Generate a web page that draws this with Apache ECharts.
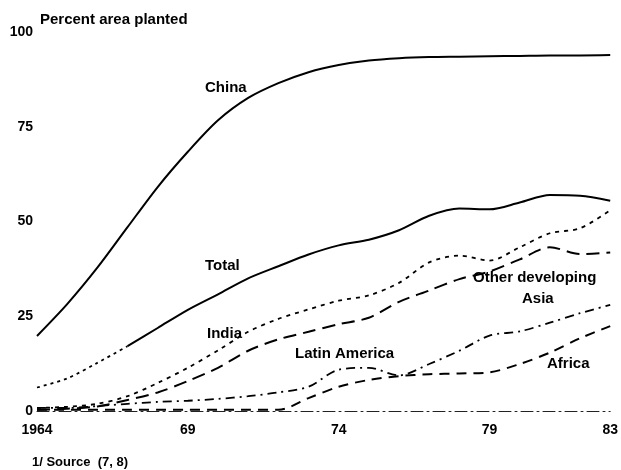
<!DOCTYPE html>
<html>
<head>
<meta charset="utf-8">
<script src="https://cdn.jsdelivr.net/npm/echarts@6/dist/echarts.min.js"></script>
<style>html,body{margin:0;padding:0;background:#fff}#c{width:621px;height:470px}</style>
</head>
<body>
<div id="c"></div>
<script>
var years = ["1964","1965","1966","1967","1968","1969","1970","1971","1972","1973","1974","1975","1976","1977","1978","1979","1980","1981","1982","1983"];
var tickLabels = {"1964":"1964","1969":"69","1974":"74","1979":"79","1983":"83"};
var yTicks = [0,25,50,75,100];
var china = [19.8,28.2,37.8,48.5,59.1,68.4,76.7,82.6,86.5,89.4,91.3,92.5,93.1,93.4,93.5,93.6,93.7,93.8,93.8,93.9];
var totalEarly = [6.2,8.6,12.7,17.1,null,null,null,null,null,null,null,null,null,null,null,null,null,null,null,null];
var total = [null,null,null,17.1,21.9,26.7,30.8,35,38.2,41.3,43.7,45.2,47.7,51.5,53.4,53.2,55,57,56.8,55.5];
var india = [0.8,1.1,1.9,3.9,7.4,11.4,16,20.9,24.3,26.8,29.1,30.5,33.8,39.2,41,39.7,43.2,46.9,48.2,53];
var otherAsia = [0.3,0.6,1.2,2.9,4.9,7.9,11.4,15.9,18.9,20.9,22.9,24.6,28.8,31.8,34.8,36.8,40,43.2,41.4,41.8];
var latinAmerica = [0.8,0.8,1.3,1.9,2.4,2.7,3.2,3.9,4.9,6.4,10.9,11.4,9.4,12.4,15.9,19.9,21,23.3,25.8,28];
var africa = [0.3,0.3,0.3,0.3,0.3,0.3,0.3,0.3,0.3,3.4,6.4,8.2,9.2,9.7,9.9,10.2,12.4,15.4,19.2,22.4];

var F = '"Liberation Sans", Arial, sans-serif';
function mk(name, data, type, w) {
  return {name:name, type:'line', data:data, symbol:'none', smooth:0.3, connectNulls:false,
    lineStyle:{color:'#000', width:w||2, type:type}, silent:true};
}
function lbl(txt, x, y, size) {
  return {type:'text', left:x, top:y, style:{text:txt, font:'bold '+(size||15)+'px '+F, fill:'#000'}};
}
var chart = echarts.init(document.getElementById('c'));
chart.setOption({
  animation:false,
  backgroundColor:'#fff',
  grid:{left:37, right:9, top:32, bottom:59},
  xAxis:{type:'category', data:years, boundaryGap:false,
    axisLine:{show:true, lineStyle:{color:'#222', width:1, type:[12,4,2,4]}},
    axisTick:{show:false},
    axisLabel:{interval:function(i,v){return tickLabels[v]!==undefined;}, formatter:function(v){return tickLabels[v];},
      color:'#000', fontFamily:F, fontWeight:'bold', fontSize:14, margin:12}},
  yAxis:{type:'value', min:0, max:100, interval:25,
    axisLine:{show:false}, axisTick:{show:false}, splitLine:{show:false},
    axisLabel:{color:'#000', fontFamily:F, fontWeight:'bold', fontSize:14, margin:4,
      formatter:function(v){return yTicks.indexOf(v)>=0?String(v):'';}}},
  series:[
    mk('China', china, 'solid', 2),
    mk('Total (early)', totalEarly, [3,4], 1.8),
    mk('Total', total, 'solid', 2),
    mk('India', india, [4,5], 1.8),
    mk('Other developing Asia', otherAsia, [13,7], 2),
    mk('Latin America', latinAmerica, [9,5,2,5], 1.8),
    mk('Africa', africa, [10,7], 2)
  ],
  graphic:[
    lbl('Percent area planted', 40, 12, 15),
    lbl('China', 205, 80),
    lbl('Total', 205, 258),
    lbl('India', 207, 326),
    lbl('Latin America', 295, 346),
    lbl('Other developing', 473, 270),
    lbl('Asia', 522, 291),
    lbl('Africa', 547, 356),
    lbl('1/ Source  (7, 8)', 32, 456, 13)
  ]
});
</script>
</body>
</html>
